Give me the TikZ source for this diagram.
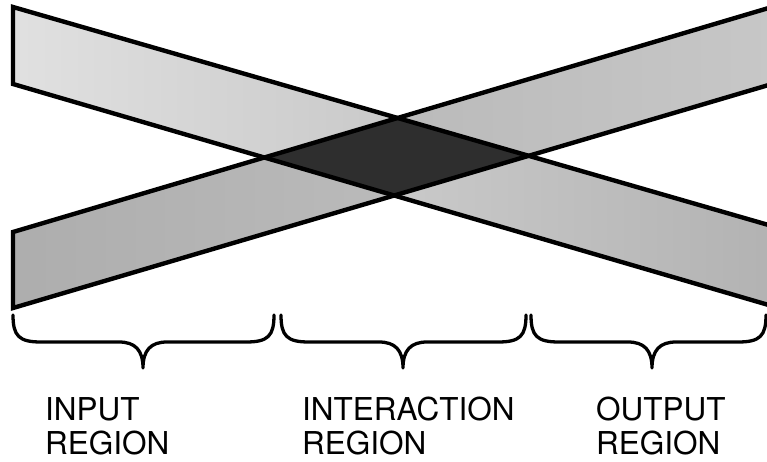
\documentclass[tikz,border=0pt]{standalone}
\usepackage{fontspec}
\setmainfont{TeX Gyre Heros}
\begin{document}
\begin{tikzpicture}[x=1pt,y=-1pt,
  bandline/.style={line width=4.4pt,line join=miter},
  brc/.style={line width=3.3pt,line join=round,line cap=round},
  lbl/.style={anchor=north west,inner sep=0pt,align=left,
    font=\fontsize{31.5}{34}\selectfont}]
\useasboundingbox (0,0) rectangle (767,461);

% band running from upper left to lower right
\coordinate (a1) at (13,7);
\coordinate (a2) at (772,226);
\coordinate (a3) at (772,306);
\coordinate (a4) at (13,84);
% band running from lower left to upper right
\coordinate (b1) at (13,232);
\coordinate (b2) at (772,7);
\coordinate (b3) at (772,84);
\coordinate (b4) at (13,308);

% corners of the overlap
\coordinate (dl) at (intersection of a4--a3 and b1--b2);
\coordinate (dt) at (intersection of a1--a2 and b1--b2);
\coordinate (dr) at (intersection of a1--a2 and b4--b3);
\coordinate (db) at (intersection of a4--a3 and b4--b3);

\shade[left color=black!12,right color=black!30] (a1) -- (a2) -- (a3) -- (a4) -- cycle;
\shade[left color=black!32,right color=black!22] (b1) -- (b2) -- (b3) -- (b4) -- cycle;
\fill[black!82] (dl) -- (dt) -- (dr) -- (db) -- cycle;

\draw[bandline] (a1) -- (a2) -- (a3) -- (a4) -- cycle;
\draw[bandline] (b1) -- (b2) -- (b3) -- (b4) -- cycle;

% braces under the three regions
\foreach \l/\m/\r in {13/143/274, 281/403/526, 531/652/766} {
  \draw[brc] (\l,315) .. controls (\l,336) and (\l+6,342) .. (\l+28,342)
    -- (\m-24,342) .. controls (\m-8,342) and (\m,350) .. (\m,368)
    .. controls (\m,350) and (\m+8,342) .. (\m+24,342)
    -- (\r-28,342) .. controls (\r-6,342) and (\r,336) .. (\r,315);
}

\node[lbl] (inp) at (45,397) {INPUT\\REGION};
\node[lbl] (mid) at (302,397) {INTERACTION\\REGION};
\node[lbl] (out) at (596,397) {OUTPUT\\REGION};
\end{tikzpicture}
\end{document}
